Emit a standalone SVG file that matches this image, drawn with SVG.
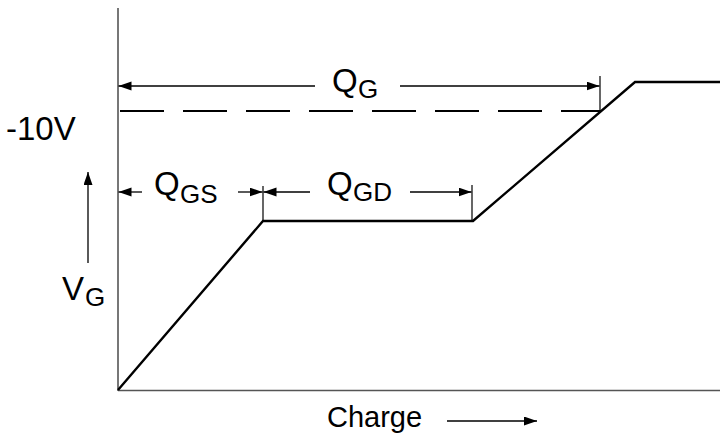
<svg xmlns="http://www.w3.org/2000/svg" width="720" height="439" viewBox="0 0 720 439">
<style>
.axis{stroke:#555;stroke-width:1.6;fill:none}
.curve{stroke:#000;stroke-width:2.4;fill:none;stroke-linejoin:miter}
.dash{stroke:#000;stroke-width:2;fill:none;stroke-dasharray:44 19}
.dim{stroke:#000;stroke-width:1.3;fill:none}
.tick{stroke:#000;stroke-width:1.2;fill:none}
.lbl{font-family:"Liberation Sans",Arial,sans-serif;fill:#000;font-size:33px}
.sub{font-size:26px}
</style>
<defs>
<marker id="ah" markerUnits="userSpaceOnUse" markerWidth="14" markerHeight="10" refX="13" refY="4.5" orient="auto">
<path d="M0,0 L13,4.5 L0,9 z" fill="#000"/>
</marker>
</defs>
<g id="axes">
<line class="axis" x1="118" y1="8" x2="118" y2="391"/>
<line class="axis" x1="118" y1="390.5" x2="720" y2="390.5"/>
</g>
<g id="curve">
<polyline class="curve" points="118,390 263,221 473,221 635,82 720,82"/>
<line class="dash" x1="120" y1="111" x2="601" y2="111"/>
</g>
<g id="connectors">
<line class="dim" x1="315" y1="86" x2="118.5" y2="86" marker-end="url(#ah)"/>
<line class="dim" x1="400" y1="86" x2="599.5" y2="86" marker-end="url(#ah)"/>
<line class="tick" x1="600" y1="76" x2="600" y2="111"/>
<line class="dim" x1="142" y1="192" x2="118.5" y2="192" marker-end="url(#ah)"/>
<line class="dim" x1="238" y1="192" x2="262.5" y2="192" marker-end="url(#ah)"/>
<line class="tick" x1="263" y1="186" x2="263" y2="221"/>
<line class="dim" x1="310" y1="192" x2="263.5" y2="192" marker-end="url(#ah)"/>
<line class="dim" x1="410" y1="192" x2="471.5" y2="192" marker-end="url(#ah)"/>
<line class="tick" x1="472" y1="185" x2="472" y2="221"/>
<line class="dim" x1="88" y1="263" x2="88" y2="172" marker-end="url(#ah)"/>
<line class="dim" x1="447" y1="421" x2="537" y2="421" marker-end="url(#ah)"/>
</g>
<g id="label-qg">
<text class="lbl" x="332" y="92">Q<tspan class="sub" x="358" y="98">G</tspan></text>
</g>
<g id="label-qgs">
<text class="lbl" x="154" y="195">Q<tspan class="sub" x="180" y="203">GS</tspan></text>
</g>
<g id="label-qgd">
<text class="lbl" x="327" y="195">Q<tspan class="sub" x="353" y="201">GD</tspan></text>
</g>
<g id="label-10v">
<text class="lbl" x="6" y="140">-10V</text>
</g>
<g id="label-vg">
<text class="lbl" x="62" y="300">V<tspan class="sub" x="85" y="306">G</tspan></text>
</g>
<g id="label-charge">
<text class="lbl" x="327" y="427" style="font-size:29px">Charge</text>
</g>
</svg>
